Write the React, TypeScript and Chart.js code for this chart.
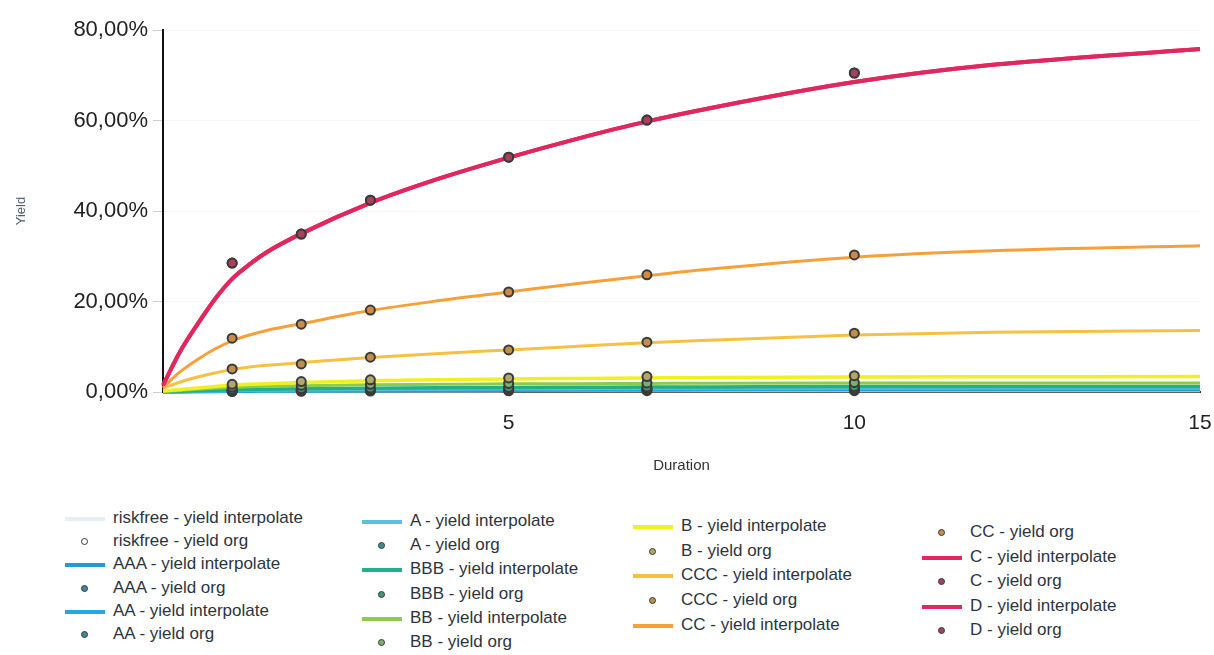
import React, { useEffect, useRef } from 'react';
import { Chart, registerables } from 'chart.js';

Chart.register(...registerables);

// Durations of the interpolated curves and of the original yields
const curveX = [0, 0.25, 0.5, 0.75, 1, 1.25, 1.5, 2, 3, 4, 5, 6, 7, 8, 10, 12, 15];
const orgX = [1, 2, 3, 5, 7, 10];

// Interpolated yield curves (%)
const riskfreeCurve = [0, 0.02, 0.05, 0.08, 0.1, 0.12, 0.13, 0.16, 0.2, 0.23, 0.25, 0.27, 0.28, 0.29, 0.3, 0.3, 0.3];
const aaaCurve = [0, 0.05, 0.09, 0.12, 0.15, 0.18, 0.2, 0.24, 0.3, 0.35, 0.4, 0.43, 0.45, 0.47, 0.5, 0.5, 0.5];
const aaCurve = [0, 0.07, 0.13, 0.19, 0.25, 0.29, 0.32, 0.38, 0.45, 0.5, 0.55, 0.58, 0.6, 0.62, 0.65, 0.68, 0.7];
const aCurve = [0, 0.1, 0.2, 0.28, 0.35, 0.4, 0.44, 0.5, 0.6, 0.68, 0.75, 0.8, 0.85, 0.87, 0.9, 0.93, 0.95];
const bbbCurve = [0.05, 0.18, 0.3, 0.41, 0.5, 0.57, 0.62, 0.7, 0.82, 0.92, 1.0, 1.05, 1.1, 1.13, 1.2, 1.2, 1.2];
const bbCurve = [0.1, 0.35, 0.6, 0.82, 1.0, 1.14, 1.25, 1.4, 1.6, 1.7, 1.8, 1.85, 1.9, 1.95, 2.0, 2.0, 2.0];
const bCurve = [0.2, 0.55, 0.9, 1.22, 1.5, 1.7, 1.85, 2.1, 2.5, 2.7, 2.9, 3.0, 3.1, 3.2, 3.3, 3.35, 3.4];
const cccCurve = [0.8, 2.2, 3.3, 4.2, 5.0, 5.5, 5.9, 6.5, 7.6, 8.5, 9.3, 10.1, 10.9, 11.5, 12.6, 13.2, 13.6];
const ccCurve = [1.0, 4.5, 7.2, 9.5, 11.3, 12.6, 13.6, 15.1, 18.0, 20.2, 22.1, 24.0, 25.7, 27.3, 29.8, 31.2, 32.3];
const cCurve = [1.5, 9.0, 15.0, 20.5, 25.0, 28.2, 30.9, 35.0, 41.8, 47.2, 51.8, 56.0, 59.8, 63.0, 68.5, 72.3, 75.8];
const dCurve = [1.5, 9.0, 15.0, 20.5, 25.0, 28.2, 30.9, 35.0, 41.8, 47.2, 51.8, 56.0, 59.8, 63.0, 68.5, 72.3, 75.8];

// Original yields (%)
const riskfreeOrg = [0.1, 0.15, 0.2, 0.25, 0.28, 0.3];
const aaaOrg = [0.2, 0.3, 0.35, 0.4, 0.45, 0.5];
const aaOrg = [0.3, 0.4, 0.5, 0.55, 0.6, 0.65];
const aOrg = [0.4, 0.5, 0.6, 0.7, 0.8, 0.9];
const bbbOrg = [0.6, 0.8, 0.9, 1.0, 1.1, 1.2];
const bbOrg = [1.1, 1.5, 1.7, 1.9, 2.0, 2.1];
const bOrg = [1.7, 2.3, 2.7, 3.1, 3.4, 3.6];
const cccOrg = [5.1, 6.2, 7.7, 9.3, 11.0, 13.0];
const ccOrg = [11.9, 15.0, 18.1, 22.1, 25.9, 30.3];
const cOrg = [28.5, 34.9, 42.4, 51.9, 60.1, 70.5];
const dOrg = [28.5, 34.9, 42.4, 51.9, 60.1, 70.5];

const seriesNames = ['riskfree', 'AAA', 'AA', 'A', 'BBB', 'BB', 'B', 'CCC', 'CC', 'C', 'D'];
const curves = [riskfreeCurve, aaaCurve, aaCurve, aCurve, bbbCurve, bbCurve, bCurve, cccCurve, ccCurve, cCurve, dCurve];
const orgs = [riskfreeOrg, aaaOrg, aaOrg, aOrg, bbbOrg, bbOrg, bOrg, cccOrg, ccOrg, cOrg, dOrg];

const lineColors = ['#e4eef3', '#1e9ad6', '#22a8e2', '#5cbfdc', '#20b08a', '#8ccc4c', '#f0f020', '#f8c040', '#f7a03a', '#e0285e', '#e0285e'];
const dotColors = ['#ffffff', '#3a8a9a', '#3f8c98', '#3d9088', '#3d9a78', '#7ab070', '#b0a868', '#c0904a', '#d08a48', '#a8405e', '#a8405e'];
const lineWidths = [3, 3.5, 3.5, 3.5, 3.5, 3, 3.5, 3, 3, 4, 4];

const yTitle = 'Yield';
const xTitle = 'Duration';

const FONT = "'Liberation Sans', Arial, Helvetica, sans-serif";

// legend layout: columns of item indices
const legendColumns = [
  [0, 1, 2, 3, 4, 5],
  [6, 7, 8, 9, 10, 11],
  [12, 13, 14, 15, 16],
  [17, 18, 19, 20, 21],
];
const colTextX = [113, 410, 681, 970];
const colTopY = [519, 522, 527, 533];
const colStep = [23.2, 24.2, 24.7, 24.5];

export default function App() {
  const ref = useRef<HTMLCanvasElement>(null);

  useEffect(() => {
    if (!ref.current) return;
    const datasets: any[] = [];
    seriesNames.forEach((name, i) => {
      datasets.push({
        label: `${name} - yield interpolate`,
        data: curveX.map((x, j) => ({ x, y: curves[i][j] })),
        showLine: true,
        borderColor: lineColors[i],
        backgroundColor: lineColors[i],
        borderWidth: lineWidths[i],
        pointRadius: 0,
        cubicInterpolationMode: 'monotone',
        fill: false,
        order: 30 - i,
        clip: false,
      });
      datasets.push({
        label: `${name} - yield org`,
        data: orgX.map((x, j) => ({ x, y: orgs[i][j] })),
        showLine: false,
        pointRadius: 4.5,
        pointBackgroundColor: dotColors[i],
        pointBorderColor: '#3a3a3a',
        pointBorderWidth: 2,
        order: 12 - i,
        clip: false,
      });
    });

    const chart = new Chart(ref.current, {
      type: 'scatter',
      data: { datasets },
      options: {
        animation: false,
        responsive: true,
        maintainAspectRatio: false,
        layout: { padding: { top: 30, right: 0, bottom: 0, left: 0 } },
        plugins: { legend: { display: false }, tooltip: { enabled: false } },
        scales: {
          x: {
            type: 'linear',
            min: 0,
            max: 15,
            afterFit: (s: any) => { s.height = 88; s.paddingRight = 14; s.paddingLeft = 0; },
            border: { color: '#333', width: 2 },
            grid: { display: true, drawOnChartArea: false, drawTicks: false },
            ticks: {
              stepSize: 5,
              padding: 19,
              color: '#222',
              font: { family: FONT, size: 21 },
              callback: (v: any) => (v === 0 ? '' : String(v)),
            },
            title: {
              display: true,
              text: xTitle,
              color: '#333',
              font: { family: FONT, size: 15 },
              padding: { top: 0, bottom: 5 },
            },
          },
          y: {
            min: 0,
            max: 80,
            afterFit: (s: any) => { s.width = 163; },
            border: { color: '#111', width: 2 },
            grid: { color: '#f6f6f6', tickColor: '#cfcfcf', tickLength: 10 },
            ticks: {
              stepSize: 20,
              padding: 5,
              color: '#222',
              font: { family: FONT, size: 22 },
              callback: (v: any) => Number(v).toFixed(2).replace('.', ',') + '%',
            },
            title: {
              display: true,
              text: yTitle,
              color: '#4e5d6c',
              font: { family: FONT, size: 13 },
              padding: { top: 14, bottom: 0 },
            },
          },
        },
      },
    });
    return () => chart.destroy();
  }, []);

  const items: { label: string; kind: 'line' | 'dot'; idx: number }[] = [];
  seriesNames.forEach((name, i) => {
    items.push({ label: `${name} - yield interpolate`, kind: 'line', idx: i });
    items.push({ label: `${name} - yield org`, kind: 'dot', idx: i });
  });

  return (
    <div style={{ position: 'fixed', left: 0, top: 0, width: 1214, height: 655, background: '#fff', overflow: 'hidden', fontFamily: FONT }}>
      <div style={{ position: 'absolute', left: 0, top: 0, width: 1214, height: 480 }}>
        <canvas ref={ref} />
      </div>
      {legendColumns.map((col, c) =>
        col.map((itemIdx, r) => {
          const it = items[itemIdx];
          const cy = colTopY[c] + r * colStep[c];
          const tx = colTextX[c];
          return (
            <div key={itemIdx}>
              {it.kind === 'line' ? (
                <div style={{ position: 'absolute', left: tx - 48, top: cy - 2, width: 40, height: 4, background: lineColors[it.idx] }} />
              ) : (
                <div style={{ position: 'absolute', left: tx - 32, top: cy - 4, width: 5, height: 5, borderRadius: '50%', background: dotColors[it.idx], border: '1.5px solid #3a3a3a' }} />
              )}
              <div style={{ position: 'absolute', left: tx, top: cy - 11, fontSize: 17, lineHeight: '20px', color: '#2b3540', whiteSpace: 'nowrap' }}>
                {it.label}
              </div>
            </div>
          );
        })
      )}
    </div>
  );
}
